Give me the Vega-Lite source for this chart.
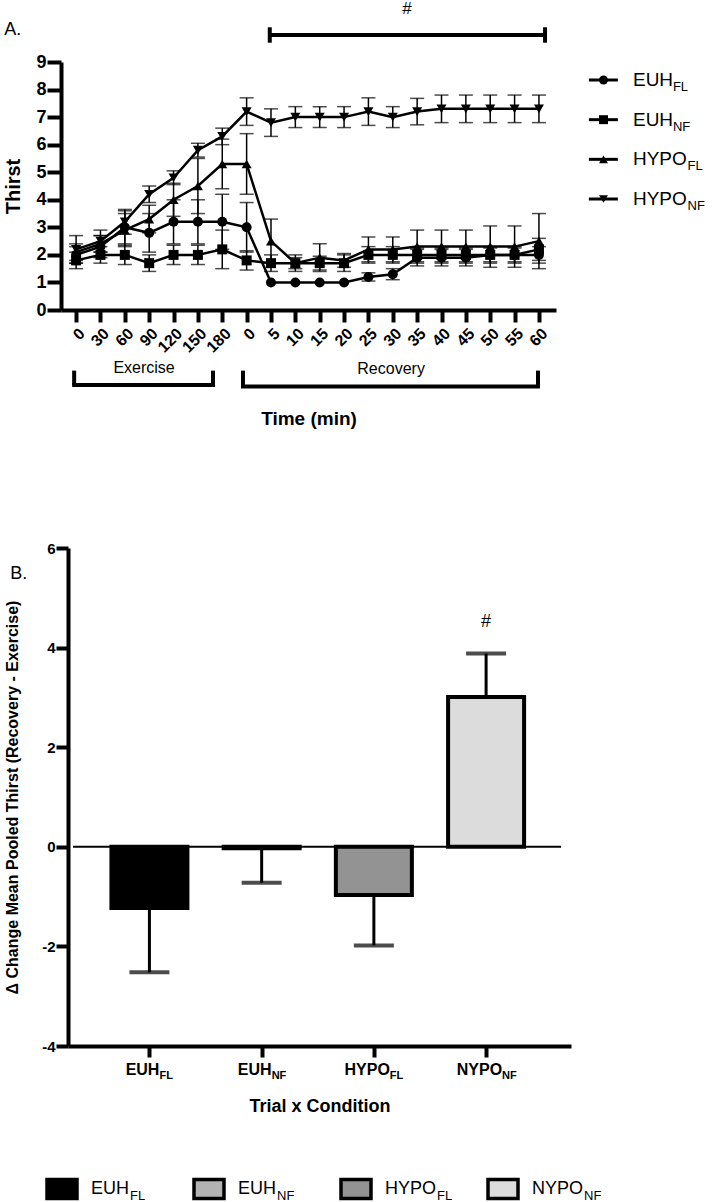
{
"$schema": "https://vega.github.io/schema/vega-lite/v6.json",
"padding": {"left": 3, "top": 0, "right": 0, "bottom": 0},
"config": {"view": {"stroke": null}, "font": "Liberation Sans",
 "axis": {"domainColor": "#000", "tickColor": "#000", "labelColor": "#000", "titleColor": "#000", "grid": false, "labelFont": "Liberation Sans", "titleFont": "Liberation Sans"},
 "text": {"color": "#000", "font": "Liberation Sans"}},
"datasets": {
 "thirst": [
  {"series":"EUH_FL","idx":0,"mean":2.0,"lo":1.7,"hi":2.3},{"series":"EUH_FL","idx":1,"mean":2.3,"lo":1.9,"hi":2.7},{"series":"EUH_FL","idx":2,"mean":3.0,"lo":2.4,"hi":3.6},{"series":"EUH_FL","idx":3,"mean":2.8,"lo":2.1,"hi":3.5},{"series":"EUH_FL","idx":4,"mean":3.2,"lo":2.4,"hi":4.0},{"series":"EUH_FL","idx":5,"mean":3.2,"lo":2.4,"hi":4.0},{"series":"EUH_FL","idx":6,"mean":3.2,"lo":2.2,"hi":4.2},{"series":"EUH_FL","idx":7,"mean":3.0,"lo":2.1,"hi":3.9},{"series":"EUH_FL","idx":8,"mean":1.0,"lo":1.0,"hi":1.0},{"series":"EUH_FL","idx":9,"mean":1.0,"lo":1.0,"hi":1.0},{"series":"EUH_FL","idx":10,"mean":1.0,"lo":1.0,"hi":1.0},{"series":"EUH_FL","idx":11,"mean":1.0,"lo":1.0,"hi":1.0},{"series":"EUH_FL","idx":12,"mean":1.2,"lo":1.05,"hi":1.35},{"series":"EUH_FL","idx":13,"mean":1.3,"lo":1.1,"hi":1.5},{"series":"EUH_FL","idx":14,"mean":1.9,"lo":1.6,"hi":2.2},{"series":"EUH_FL","idx":15,"mean":1.9,"lo":1.6,"hi":2.2},{"series":"EUH_FL","idx":16,"mean":1.9,"lo":1.6,"hi":2.2},{"series":"EUH_FL","idx":17,"mean":2.0,"lo":1.7,"hi":2.3},{"series":"EUH_FL","idx":18,"mean":2.0,"lo":1.7,"hi":2.3},{"series":"EUH_FL","idx":19,"mean":2.0,"lo":1.7,"hi":2.3},
  {"series":"EUH_NF","idx":0,"mean":1.8,"lo":1.5,"hi":2.1},{"series":"EUH_NF","idx":1,"mean":2.0,"lo":1.7,"hi":2.3},{"series":"EUH_NF","idx":2,"mean":2.0,"lo":1.65,"hi":2.35},{"series":"EUH_NF","idx":3,"mean":1.7,"lo":1.4,"hi":2.0},{"series":"EUH_NF","idx":4,"mean":2.0,"lo":1.65,"hi":2.35},{"series":"EUH_NF","idx":5,"mean":2.0,"lo":1.65,"hi":2.35},{"series":"EUH_NF","idx":6,"mean":2.2,"lo":1.5,"hi":2.9},{"series":"EUH_NF","idx":7,"mean":1.8,"lo":1.45,"hi":2.15},{"series":"EUH_NF","idx":8,"mean":1.7,"lo":1.4,"hi":2.0},{"series":"EUH_NF","idx":9,"mean":1.7,"lo":1.5,"hi":1.9},{"series":"EUH_NF","idx":10,"mean":1.7,"lo":1.45,"hi":1.95},{"series":"EUH_NF","idx":11,"mean":1.7,"lo":1.4,"hi":2.0},{"series":"EUH_NF","idx":12,"mean":2.0,"lo":1.7,"hi":2.3},{"series":"EUH_NF","idx":13,"mean":2.0,"lo":1.7,"hi":2.3},{"series":"EUH_NF","idx":14,"mean":2.0,"lo":1.75,"hi":2.25},{"series":"EUH_NF","idx":15,"mean":2.0,"lo":1.75,"hi":2.25},{"series":"EUH_NF","idx":16,"mean":2.0,"lo":1.75,"hi":2.25},{"series":"EUH_NF","idx":17,"mean":2.0,"lo":1.75,"hi":2.25},{"series":"EUH_NF","idx":18,"mean":2.0,"lo":1.75,"hi":2.25},{"series":"EUH_NF","idx":19,"mean":2.2,"lo":1.8,"hi":2.6},
  {"series":"HYPO_FL","idx":0,"mean":2.1,"lo":1.8,"hi":2.4},{"series":"HYPO_FL","idx":1,"mean":2.4,"lo":2.1,"hi":2.7},{"series":"HYPO_FL","idx":2,"mean":2.9,"lo":2.3,"hi":3.5},{"series":"HYPO_FL","idx":3,"mean":3.3,"lo":2.8,"hi":3.8},{"series":"HYPO_FL","idx":4,"mean":4.0,"lo":3.4,"hi":4.6},{"series":"HYPO_FL","idx":5,"mean":4.5,"lo":3.5,"hi":5.5},{"series":"HYPO_FL","idx":6,"mean":5.3,"lo":4.4,"hi":6.2},{"series":"HYPO_FL","idx":7,"mean":5.3,"lo":4.2,"hi":6.4},{"series":"HYPO_FL","idx":8,"mean":2.5,"lo":1.7,"hi":3.3},{"series":"HYPO_FL","idx":9,"mean":1.7,"lo":1.4,"hi":2.0},{"series":"HYPO_FL","idx":10,"mean":1.9,"lo":1.4,"hi":2.4},{"series":"HYPO_FL","idx":11,"mean":1.8,"lo":1.55,"hi":2.05},{"series":"HYPO_FL","idx":12,"mean":2.2,"lo":1.75,"hi":2.65},{"series":"HYPO_FL","idx":13,"mean":2.2,"lo":1.75,"hi":2.65},{"series":"HYPO_FL","idx":14,"mean":2.3,"lo":1.7,"hi":2.9},{"series":"HYPO_FL","idx":15,"mean":2.3,"lo":1.7,"hi":2.9},{"series":"HYPO_FL","idx":16,"mean":2.3,"lo":1.7,"hi":2.9},{"series":"HYPO_FL","idx":17,"mean":2.3,"lo":1.55,"hi":3.05},{"series":"HYPO_FL","idx":18,"mean":2.3,"lo":1.55,"hi":3.05},{"series":"HYPO_FL","idx":19,"mean":2.5,"lo":1.5,"hi":3.5},
  {"series":"HYPO_NF","idx":0,"mean":2.2,"lo":1.7,"hi":2.7},{"series":"HYPO_NF","idx":1,"mean":2.5,"lo":2.1,"hi":2.9},{"series":"HYPO_NF","idx":2,"mean":3.2,"lo":2.75,"hi":3.65},{"series":"HYPO_NF","idx":3,"mean":4.2,"lo":3.9,"hi":4.5},{"series":"HYPO_NF","idx":4,"mean":4.8,"lo":4.55,"hi":5.05},{"series":"HYPO_NF","idx":5,"mean":5.8,"lo":5.55,"hi":6.05},{"series":"HYPO_NF","idx":6,"mean":6.3,"lo":6.0,"hi":6.6},{"series":"HYPO_NF","idx":7,"mean":7.2,"lo":6.7,"hi":7.7},{"series":"HYPO_NF","idx":8,"mean":6.8,"lo":6.3,"hi":7.3},{"series":"HYPO_NF","idx":9,"mean":7.0,"lo":6.62,"hi":7.38},{"series":"HYPO_NF","idx":10,"mean":7.0,"lo":6.62,"hi":7.38},{"series":"HYPO_NF","idx":11,"mean":7.0,"lo":6.62,"hi":7.38},{"series":"HYPO_NF","idx":12,"mean":7.2,"lo":6.7,"hi":7.7},{"series":"HYPO_NF","idx":13,"mean":7.0,"lo":6.62,"hi":7.38},{"series":"HYPO_NF","idx":14,"mean":7.2,"lo":6.72,"hi":7.68},{"series":"HYPO_NF","idx":15,"mean":7.3,"lo":6.8,"hi":7.8},{"series":"HYPO_NF","idx":16,"mean":7.3,"lo":6.8,"hi":7.8},{"series":"HYPO_NF","idx":17,"mean":7.3,"lo":6.8,"hi":7.8},{"series":"HYPO_NF","idx":18,"mean":7.3,"lo":6.8,"hi":7.8},{"series":"HYPO_NF","idx":19,"mean":7.3,"lo":6.8,"hi":7.8}
 ],
 "legend1": [
  {"series":"EUH_FL","main":"EUH","sub":"FL"},{"series":"EUH_NF","main":"EUH","sub":"NF"},{"series":"HYPO_FL","main":"HYPO","sub":"FL"},{"series":"HYPO_NF","main":"HYPO","sub":"NF"}
 ],
 "delta": [
  {"cond":"EUH_FL","idx":0,"main":"EUH","sub":"FL","mean":-1.23,"errEnd":-2.52},
  {"cond":"EUH_NF","idx":1,"main":"EUH","sub":"NF","mean":-0.03,"errEnd":-0.72},
  {"cond":"HYPO_FL","idx":2,"main":"HYPO","sub":"FL","mean":-0.97,"errEnd":-1.98},
  {"cond":"NYPO_NF","idx":3,"main":"NYPO","sub":"NF","mean":3.01,"errEnd":3.88}
 ]
},
"spacing": 112,
"vconcat": [
 {
  "width": 495, "height": 248,
  "layer": [
   {"data": {"name": "thirst"},
    "encoding": {
     "x": {"field": "idx", "type": "quantitative", "scale": {"domain": [-0.62, 19.7], "nice": false, "zero": false},
       "axis": {"values": [0,1,2,3,4,5,6,7,8,9,10,11,12,13,14,15,16,17,18,19],
         "labelExpr": "['0','30','60','90','120','150','180','0','5','10','15','20','25','30','35','40','45','50','55','60'][datum.value]",
         "labelAngle": -45, "labelFontSize": 16, "labelFontWeight": "bold", "labelPadding": 3, "labelOverlap": false, "labelBound": false,
         "tickSize": 12, "tickWidth": 4, "domainWidth": 4,
         "title": "Time (min)", "titleFontSize": 19, "titleFontWeight": "bold", "titlePadding": 54}},
     "y": {"field": "mean", "type": "quantitative", "scale": {"domain": [0, 9], "nice": false},
       "axis": {"values": [0,1,2,3,4,5,6,7,8,9], "labelOverlap": false, "tickSize": 14, "tickWidth": 4, "domainWidth": 4,
         "labelFontSize": 18, "labelFontWeight": "bold", "labelPadding": 1,
         "title": "Thirst", "titleFontSize": 20, "titleFontWeight": "bold", "titlePadding": 12}}
    },
    "layer": [
     {"mark": {"type": "rule", "strokeWidth": 1.5, "color": "#000"},
      "encoding": {"y": {"field": "lo"}, "y2": {"field": "hi"}}},
     {"transform": [{"filter": "datum.hi > datum.lo"}],
      "mark": {"type": "tick", "orient": "horizontal", "size": 14, "thickness": 1.5, "color": "#000"},
      "encoding": {"y": {"field": "lo"}}},
     {"transform": [{"filter": "datum.hi > datum.lo"}],
      "mark": {"type": "tick", "orient": "horizontal", "size": 14, "thickness": 1.5, "color": "#000"},
      "encoding": {"y": {"field": "hi"}}},
     {"mark": {"type": "line", "strokeWidth": 2.5, "color": "#000"},
      "encoding": {"detail": {"field": "series"}}},
     {"mark": {"type": "point", "filled": true, "opacity": 1, "color": "#000", "size": 100},
      "encoding": {"shape": {"field": "series", "type": "nominal", "scale": {"domain": ["EUH_FL","EUH_NF","HYPO_FL","HYPO_NF"], "range": ["circle","square","triangle-up","triangle-down"]}, "legend": null}}}
    ]},
   {"data": {"values": [{}]},
    "layer": [
     {"mark": {"type": "rule", "strokeWidth": 4, "color": "#000"},
      "encoding": {"x": {"datum": 7.95, "type": "quantitative", "scale": {"domain": [-0.62, 19.7], "nice": false, "zero": false}, "axis": null}, "x2": {"datum": 19.25},
       "y": {"datum": 9.98, "type": "quantitative", "scale": {"domain": [0, 9], "nice": false, "zero": false}, "axis": null}}},
     {"mark": {"type": "rule", "strokeWidth": 4, "color": "#000"},
      "encoding": {"x": {"datum": 7.95, "type": "quantitative"}, "y": {"datum": 9.7, "type": "quantitative"}, "y2": {"datum": 10.26}}},
     {"mark": {"type": "rule", "strokeWidth": 4, "color": "#000"},
      "encoding": {"x": {"datum": 19.25, "type": "quantitative"}, "y": {"datum": 9.7, "type": "quantitative"}, "y2": {"datum": 10.26}}},
     {"mark": {"type": "text", "fontSize": 17, "align": "center", "baseline": "middle", "text": "#"},
      "encoding": {"x": {"datum": 13.58, "type": "quantitative"}, "y": {"datum": 10.92, "type": "quantitative"}}},
     {"mark": {"type": "text", "fontSize": 18, "align": "left", "baseline": "middle", "text": "A."},
      "encoding": {"x": {"datum": -2.95, "type": "quantitative"}, "y": {"datum": 10.16, "type": "quantitative"}}},
     {"mark": {"type": "rule", "strokeWidth": 4, "color": "#000", "strokeCap": "square"},
      "encoding": {"x": {"datum": -0.08, "type": "quantitative"}, "x2": {"datum": 5.62}, "y": {"datum": -2.72, "type": "quantitative"}}},
     {"mark": {"type": "rule", "strokeWidth": 4, "color": "#000"},
      "encoding": {"x": {"datum": -0.08, "type": "quantitative"}, "y": {"datum": -2.72, "type": "quantitative"}, "y2": {"datum": -2.2}}},
     {"mark": {"type": "rule", "strokeWidth": 4, "color": "#000"},
      "encoding": {"x": {"datum": 5.62, "type": "quantitative"}, "y": {"datum": -2.72, "type": "quantitative"}, "y2": {"datum": -2.2}}},
     {"mark": {"type": "rule", "strokeWidth": 4, "color": "#000", "strokeCap": "square"},
      "encoding": {"x": {"datum": 6.85, "type": "quantitative"}, "x2": {"datum": 18.96}, "y": {"datum": -2.78, "type": "quantitative"}}},
     {"mark": {"type": "rule", "strokeWidth": 4, "color": "#000"},
      "encoding": {"x": {"datum": 6.85, "type": "quantitative"}, "y": {"datum": -2.78, "type": "quantitative"}, "y2": {"datum": -2.2}}},
     {"mark": {"type": "rule", "strokeWidth": 4, "color": "#000"},
      "encoding": {"x": {"datum": 18.96, "type": "quantitative"}, "y": {"datum": -2.78, "type": "quantitative"}, "y2": {"datum": -2.2}}},
     {"mark": {"type": "text", "fontSize": 16, "align": "center", "baseline": "middle", "text": "Exercise"},
      "encoding": {"x": {"datum": 2.79, "type": "quantitative"}, "y": {"datum": -2.1, "type": "quantitative"}}},
     {"mark": {"type": "text", "fontSize": 16, "align": "center", "baseline": "middle", "text": "Recovery"},
      "encoding": {"x": {"datum": 12.93, "type": "quantitative"}, "y": {"datum": -2.15, "type": "quantitative"}}}
    ]},
   {"data": {"name": "legend1"},
    "encoding": {"y": {"field": "series", "type": "nominal", "scale": {"type": "point", "domain": ["EUH_FL","EUH_NF","HYPO_FL","HYPO_NF"], "range": [18, 137], "padding": 0}, "axis": null}},
    "layer": [
     {"mark": {"type": "rule", "strokeWidth": 3, "color": "#000"},
      "encoding": {"x": {"datum": 21.05, "type": "quantitative", "scale": {"domain": [-0.62, 19.7], "nice": false, "zero": false}, "axis": null}, "x2": {"datum": 22.24}}},
     {"mark": {"type": "point", "filled": true, "opacity": 1, "color": "#000", "size": 80},
      "encoding": {"x": {"datum": 21.65, "type": "quantitative"}, "shape": {"field": "series", "type": "nominal", "legend": null}}},
     {"mark": {"type": "text", "fontSize": 19, "align": "left", "baseline": "middle"},
      "encoding": {"x": {"datum": 22.86, "type": "quantitative"}, "text": {"field": "main"}}},
     {"transform": [{"filter": "datum.main == 'EUH'"}],
      "mark": {"type": "text", "fontSize": 13, "align": "left", "baseline": "middle", "dy": 7},
      "encoding": {"x": {"datum": 24.5, "type": "quantitative"}, "text": {"field": "sub"}}},
     {"transform": [{"filter": "datum.main == 'HYPO'"}],
      "mark": {"type": "text", "fontSize": 13, "align": "left", "baseline": "middle", "dy": 7},
      "encoding": {"x": {"datum": 25.1, "type": "quantitative"}, "text": {"field": "sub"}}}
    ]}
  ],
  "resolve": {"scale": {"x": "independent", "y": "independent"}}
 },
 {
  "width": 510, "height": 498,
  "layer": [
   {"layer": [
    {"data": {"name": "delta"}, "mark": {"type": "rule", "strokeWidth": 3, "color": "#000"},
     "encoding": {
      "x": {"field": "idx", "type": "quantitative", "scale": {"domain": [-0.681, 3.712], "range": [7, 510], "nice": false, "zero": false},
        "axis": {"values": [0,1,2,3], "labels": false, "tickSize": 11, "tickWidth": 4, "domainWidth": 4,
          "title": "Trial x Condition", "titleFontSize": 18, "titleFontWeight": "bold", "titlePadding": 38}},
      "y": {"field": "mean", "type": "quantitative", "scale": {"domain": [-4, 6], "nice": false},
        "axis": {"values": [-4,-2,0,2,4,6], "labelExpr": "'' + datum.value", "offset": -7, "tickSize": 12, "tickWidth": 4, "domainWidth": 4,
          "labelFontSize": 15, "labelFontWeight": "bold", "labelPadding": 1,
          "title": "Δ Change Mean Pooled Thirst (Recovery - Exercise)", "titleFontSize": 16, "titleFontWeight": "bold", "titlePadding": 21}},
      "y2": {"field": "errEnd"}}},
    {"data": {"values": [{}]}, "mark": {"type": "rule", "strokeWidth": 2, "color": "#000"},
     "encoding": {"x": {"datum": -0.681, "type": "quantitative"}, "x2": {"datum": 3.668}, "y": {"datum": 0, "type": "quantitative"}}},
    {"data": {"name": "delta"}, "mark": {"type": "tick", "orient": "horizontal", "size": 40, "thickness": 4, "color": "#000"},
     "encoding": {"x": {"field": "idx", "type": "quantitative"}, "y": {"field": "errEnd", "type": "quantitative"}}},
    {"data": {"name": "delta"}, "mark": {"type": "bar", "size": 76, "stroke": "#000", "strokeWidth": 4, "orient": "vertical"},
     "encoding": {"x": {"field": "idx", "type": "quantitative"}, "y": {"field": "mean", "type": "quantitative"}, "y2": {"datum": 0},
      "fill": {"field": "cond", "type": "nominal", "scale": {"domain": ["EUH_FL","EUH_NF","HYPO_FL","NYPO_NF"], "range": ["#000000","#b3b3b3","#939393","#dcdcdc"]}, "legend": null}}},
    {"data": {"values": [{}]}, "mark": {"type": "text", "fontSize": 18, "align": "center", "baseline": "middle", "text": "#"},
     "encoding": {"x": {"datum": 3, "type": "quantitative"}, "y": {"datum": 4.51, "type": "quantitative"}}},
    {"data": {"values": [{}]}, "mark": {"type": "text", "fontSize": 18, "align": "left", "baseline": "middle", "text": "B."},
     "encoding": {"x": {"datum": -1.24, "type": "quantitative"}, "y": {"datum": 5.48, "type": "quantitative"}}},
    {"data": {"name": "delta"}, "transform": [{"filter": "datum.main == 'EUH'"}],
     "mark": {"type": "text", "fontSize": 16, "fontWeight": "bold", "align": "right", "baseline": "middle", "dx": 10},
     "encoding": {"x": {"field": "idx", "type": "quantitative"}, "y": {"datum": -4.48, "type": "quantitative"}, "text": {"field": "main"}}},
    {"data": {"name": "delta"}, "transform": [{"filter": "datum.main == 'EUH'"}],
     "mark": {"type": "text", "fontSize": 11, "fontWeight": "bold", "align": "left", "baseline": "middle", "dx": 10, "dy": 6},
     "encoding": {"x": {"field": "idx", "type": "quantitative"}, "y": {"datum": -4.48, "type": "quantitative"}, "text": {"field": "sub"}}},
    {"data": {"name": "delta"}, "transform": [{"filter": "datum.main != 'EUH'"}],
     "mark": {"type": "text", "fontSize": 16, "fontWeight": "bold", "align": "right", "baseline": "middle", "dx": 16},
     "encoding": {"x": {"field": "idx", "type": "quantitative"}, "y": {"datum": -4.48, "type": "quantitative"}, "text": {"field": "main"}}},
    {"data": {"name": "delta"}, "transform": [{"filter": "datum.main != 'EUH'"}],
     "mark": {"type": "text", "fontSize": 11, "fontWeight": "bold", "align": "left", "baseline": "middle", "dx": 16, "dy": 6},
     "encoding": {"x": {"field": "idx", "type": "quantitative"}, "y": {"datum": -4.48, "type": "quantitative"}, "text": {"field": "sub"}}}
   ]},
   {"data": {"name": "delta"},
    "layer": [
     {"mark": {"type": "point", "shape": "M-1,-0.633L1,-0.633L1,0.633L-1,0.633Z", "size": 900, "stroke": "#000", "strokeWidth": 3.5, "opacity": 1},
      "encoding": {"x": {"field": "cond", "type": "nominal", "scale": {"type": "point", "domain": ["EUH_FL","EUH_NF","HYPO_FL","NYPO_NF"], "range": [1, 442], "padding": 0}, "axis": null},
       "y": {"datum": -6.87, "type": "quantitative"},
       "fill": {"field": "cond", "type": "nominal", "legend": null}}},
     {"mark": {"type": "text", "fontSize": 18, "align": "left", "baseline": "middle", "dx": 29},
      "encoding": {"x": {"field": "cond", "type": "nominal"}, "y": {"datum": -6.87, "type": "quantitative"}, "text": {"field": "main"}}},
     {"transform": [{"filter": "datum.main == 'EUH'"}],
      "mark": {"type": "text", "fontSize": 13, "align": "left", "baseline": "middle", "dx": 68, "dy": 7},
      "encoding": {"x": {"field": "cond", "type": "nominal"}, "y": {"datum": -6.87, "type": "quantitative"}, "text": {"field": "sub"}}},
     {"transform": [{"filter": "datum.main != 'EUH'"}],
      "mark": {"type": "text", "fontSize": 13, "align": "left", "baseline": "middle", "dx": 81, "dy": 7},
      "encoding": {"x": {"field": "cond", "type": "nominal"}, "y": {"datum": -6.87, "type": "quantitative"}, "text": {"field": "sub"}}}
    ]}
  ],
  "resolve": {"scale": {"x": "independent"}}
 }
]
}
